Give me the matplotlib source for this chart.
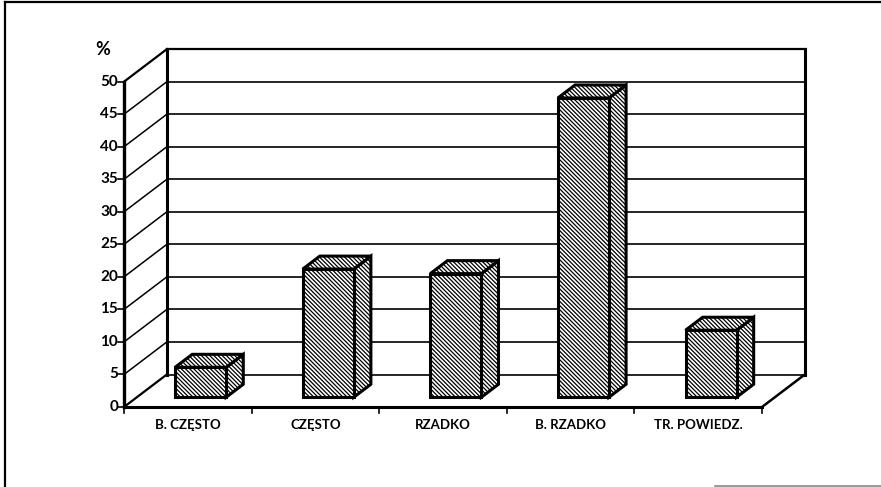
import matplotlib
matplotlib.use("Agg")
import matplotlib.pyplot as plt
from matplotlib.patches import Polygon
from matplotlib.lines import Line2D

# data
categories = ["B. CZĘSTO", "CZĘSTO", "RZADKO", "B. RZADKO", "TR. POWIEDZ."]
values = [4.6, 19.7, 19.0, 46.0, 10.3]
y_ticks = [0, 5, 10, 15, 20, 25, 30, 35, 40, 45, 50]
y_max = 50

# layout (pixels)
W, H = 881, 487
X0_PX = 124          # front left corner of the floor
PX_PER_CAT = 127.6
Y0_PX = 80           # zero line, from bottom of figure
PX_PER_VAL = 6.506
DEPTH_X_PX = 42.8
DEPTH_Y_PX = 32.5

DX = DEPTH_X_PX / PX_PER_CAT
DY = DEPTH_Y_PX / PX_PER_VAL
px_x = 1 / PX_PER_CAT
px_y = 1 / PX_PER_VAL

fig = plt.figure(figsize=(W / 100, H / 100), dpi=100)
ax = fig.add_axes([0, 0, 1, 1])
ax.set_xlim(-X0_PX / PX_PER_CAT, (W - X0_PX) / PX_PER_CAT)
ax.set_ylim(-Y0_PX / PX_PER_VAL, (H - Y0_PX) / PX_PER_VAL)
ax.axis("off")

plt.rcParams["hatch.linewidth"] = 0.9
font = "Lato"


def proj(x, y, d):
    """oblique projection: category x, value y, depth d (0 front, 1 back)"""
    return x + d * DX, y + d * DY


n = len(categories)

# left wall diagonals and back wall gridlines
for v in y_ticks:
    a = proj(0, v, 0)
    b = proj(0, v, 1)
    c = proj(n, v, 1)
    lw = 1.6 if v in (0, y_max) else 1.1
    ax.plot([a[0], b[0]], [a[1], b[1]], color="black", lw=lw, zorder=1)
    ax.plot([b[0], c[0]], [b[1], c[1]], color="black", lw=lw if v == y_max else 1.2, zorder=1)
    # tick + label on the front axis
    ax.plot([-6 * px_x, 0], [v, v], color="black", lw=1.2, zorder=2)
    ax.text(-6 * px_x, v, str(v), ha="right", va="center", fontsize=11,
            fontweight="bold", family=font)

# back wall verticals
for x in (0, n):
    b0 = proj(x, 0, 1)
    b1 = proj(x, y_max, 1)
    ax.plot([b0[0], b1[0]], [b0[1], b1[1]], color="black", lw=2.2, zorder=1)

# front axis and floor
ax.plot([0, 0], [0, y_max], color="black", lw=2.4, zorder=2)
ax.plot([0, n], [0, 0], color="black", lw=2.2, zorder=2)
r0 = proj(n, 0, 0)
r1 = proj(n, 0, 1)
ax.plot([r0[0], r1[0]], [r0[1], r1[1]], color="black", lw=1.8, zorder=2)
for i in range(n + 1):
    ax.plot([i, i], [0, -6 * px_y], color="black", lw=1.2, zorder=2)

ax.text(-21 * px_x, 54.9, "%", ha="center", va="center",
        fontsize=13, fontweight="bold", family=font)

# bars
bar_w = 0.4
d0, d1 = 0.3, 0.7
for i, (cat, v) in enumerate(zip(categories, values)):
    x0 = i + 0.5 - bar_w / 2
    x1 = i + 0.5 + bar_w / 2
    front = [proj(x0, 0, d0), proj(x1, 0, d0), proj(x1, v, d0), proj(x0, v, d0)]
    side = [proj(x1, 0, d0), proj(x1, 0, d1), proj(x1, v, d1), proj(x1, v, d0)]
    top = [proj(x0, v, d0), proj(x1, v, d0), proj(x1, v, d1), proj(x0, v, d1)]
    for face in (side, top, front):
        ax.add_patch(Polygon(face, closed=True, facecolor="white", edgecolor="black",
                             hatch="\\" * 8, lw=2.2, joinstyle="miter", zorder=3))
    ax.text(i + 0.5, -18 * px_y, cat, ha="center", va="center", fontsize=9.5,
            fontweight="bold", family=font)

# outer frame of the scanned page
fig.add_artist(Line2D([5 / W, 5 / W], [0, 1 - 2 / H], color="black", lw=1.6))
fig.add_artist(Line2D([5 / W, 1], [1 - 2 / H, 1 - 2 / H], color="black", lw=1.6))
fig.add_artist(Line2D([715 / W, 1], [1.5 / H, 1.5 / H], color="#888888", lw=1.2))

fig.savefig("out.png", dpi=100, facecolor="white")
